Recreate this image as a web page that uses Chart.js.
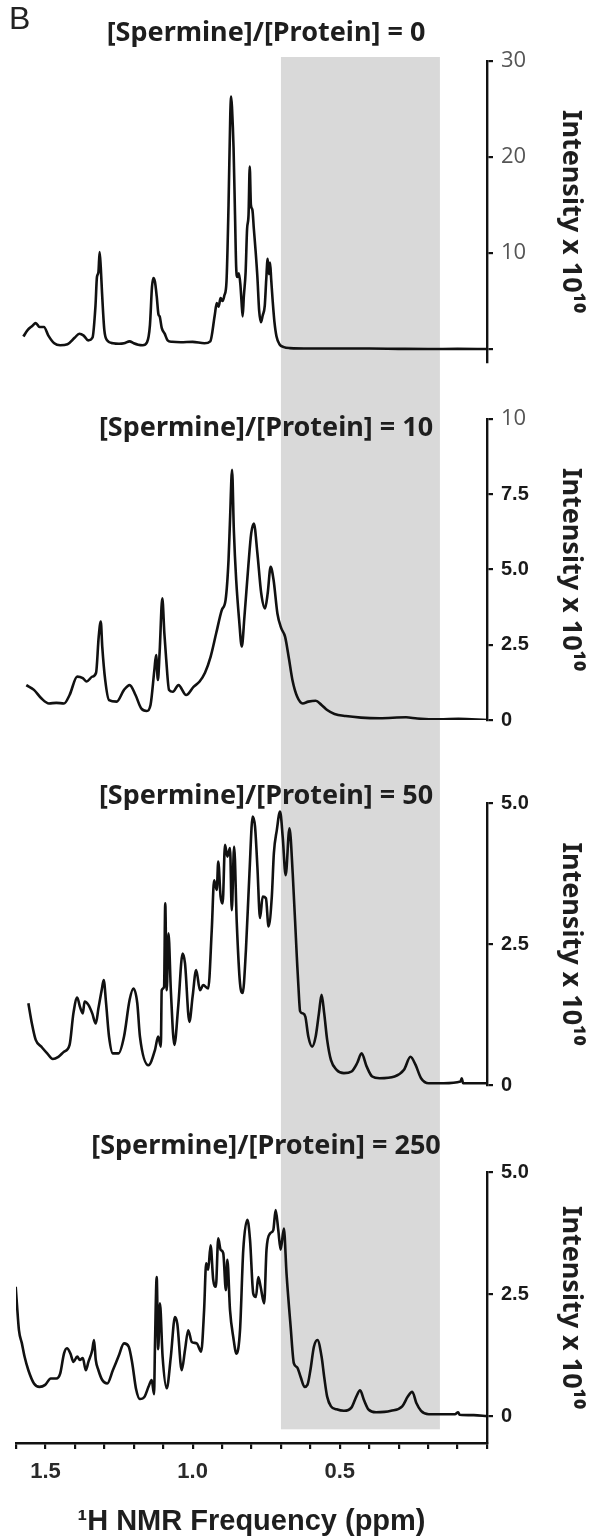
<!DOCTYPE html>
<html><head><meta charset="utf-8">
<script src="https://cdn.jsdelivr.net/npm/chart.js@4.4.1/dist/chart.umd.min.js"></script>
<style>
html,body{margin:0;padding:0;background:#fff;}
#wrap{position:relative;width:589px;height:1539px;overflow:hidden;}
canvas{position:absolute;left:0;top:0;}
.t{position:absolute;font-family:"Noto Sans","Open Sans",sans-serif;font-weight:bold;font-size:27px;color:#1e1e1e;white-space:nowrap;transform:translate(-50%,-50%);line-height:1;}
#lbl{position:absolute;left:9px;top:2px;font-family:"Liberation Sans",Arial,sans-serif;font-size:32px;color:#222;line-height:1;}
</style></head><body>
<div id="wrap"><canvas id="c" width="589" height="1539"></canvas><div id="lbl">B</div></div>
<script>
// ---- data ----
const panelLabels = ['[Spermine]/[Protein] = 0','[Spermine]/[Protein] = 10','[Spermine]/[Protein] = 50','[Spermine]/[Protein] = 250'];
const xTickLabels = ['1.5','1.0','0.5'];
const yTitle = 'Intensity x 10\u00B9\u2070';
const xTitle = '\u00B9H NMR Frequency (ppm)';

const ppm0 = [1.575,1.56,1.545,1.533,1.52,1.505,1.49,1.47,1.45,1.425,1.40,1.385,1.37,1.355,1.34,1.33,1.325,1.32,1.316,1.312,1.308,1.30,1.29,1.27,1.25,1.233,1.214,1.20,1.185,1.17,1.155,1.145,1.138,1.133,1.128,1.122,1.116,1.112,1.105,1.095,1.085,1.07,1.04,1.00,0.96,0.94,0.925,0.918,0.912,0.905,0.898,0.892,0.885,0.878,0.872,0.869,0.866,0.861,0.856,0.852,0.848,0.843,0.838,0.834,0.830,0.826,0.82,0.815,0.810,0.806,0.802,0.797,0.792,0.786,0.780,0.774,0.768,0.762,0.755,0.75,0.745,0.741,0.737,0.733,0.728,0.722,0.715,0.705,0.69,0.67,0.6,0.5,0.4,0.3,0.2,0.1,0.0];
const int0 = [1.3,2.0,2.4,2.7,2.3,2.3,1.4,0.6,0.4,0.5,1.2,1.6,1.4,0.9,1.2,4.5,7.5,8.0,10.1,8.5,6.0,2.0,0.9,0.6,0.55,0.6,0.8,0.6,0.45,0.4,0.7,2.5,6.5,7.4,7.0,5.5,3.6,3.4,2.2,1.6,0.9,0.75,0.7,0.75,0.6,0.8,3.5,4.8,4.4,5.3,5.0,5.6,7.0,15,24.5,26.3,25,21,14,8.5,7.5,7.9,6.8,5.0,3.4,5.5,8.0,12.5,14,19.0,15,14.5,12.5,10.2,7.5,4.0,2.8,3.5,4.5,7.2,9.4,7.8,9.0,7.2,5.0,2.8,1.3,0.5,0.2,0.1,0.05,0.05,0.05,0.02,0.0,0.02,0.0];

const ppm10 = [1.565,1.539,1.514,1.488,1.463,1.437,1.418,1.392,1.373,1.360,1.341,1.328,1.319,1.312,1.307,1.297,1.284,1.258,1.233,1.214,1.194,1.175,1.156,1.143,1.130,1.124,1.118,1.112,1.103,1.096,1.090,1.080,1.067,1.048,1.022,0.997,0.977,0.958,0.939,0.920,0.901,0.888,0.878,0.873,0.866,0.860,0.852,0.842,0.833,0.824,0.811,0.801,0.792,0.780,0.767,0.754,0.745,0.735,0.725,0.712,0.699,0.686,0.673,0.661,0.645,0.626,0.607,0.582,0.562,0.543,0.518,0.480,0.428,0.365,0.275,0.237,0.161,0.097,0.0];
const int10 = [1.16,1.0,0.72,0.55,0.57,0.55,0.83,1.44,1.39,1.28,1.44,1.57,2.77,3.27,2.44,1.33,0.66,0.61,1.0,1.16,0.83,0.39,0.30,0.50,1.66,2.16,1.33,2.27,4.04,2.88,2.05,1.0,0.94,1.16,0.83,1.1,1.27,1.57,2.10,2.88,3.65,3.99,5.32,6.64,8.31,6.31,4.65,3.32,2.44,3.43,5.09,6.20,6.53,5.54,4.21,3.71,4.21,5.09,4.65,3.54,3.05,2.77,2.05,1.33,0.78,0.55,0.61,0.64,0.50,0.33,0.20,0.13,0.08,0.06,0.09,0.05,0.02,0.04,0.0];

const ppm50 = [1.558,1.546,1.533,1.514,1.494,1.475,1.456,1.437,1.418,1.405,1.392,1.383,1.373,1.367,1.354,1.341,1.329,1.320,1.309,1.302,1.294,1.284,1.271,1.252,1.233,1.214,1.201,1.188,1.179,1.150,1.128,1.117,1.108,1.105,1.097,1.093,1.088,1.082,1.074,1.062,1.049,1.034,1.026,1.011,1.000,0.988,0.975,0.964,0.947,0.935,0.927,0.918,0.913,0.905,0.898,0.890,0.882,0.873,0.867,0.859,0.850,0.839,0.830,0.819,0.807,0.796,0.788,0.780,0.771,0.762,0.751,0.742,0.731,0.724,0.714,0.703,0.694,0.684,0.671,0.660,0.646,0.638,0.635,0.626,0.617,0.607,0.594,0.582,0.571,0.562,0.553,0.543,0.530,0.511,0.486,0.460,0.441,0.426,0.409,0.390,0.365,0.314,0.282,0.260,0.243,0.224,0.198,0.147,0.090,0.086,0.081,0.0];
const int50 = [1.45,1.09,0.80,0.68,0.56,0.46,0.50,0.59,0.71,1.27,1.55,1.39,1.27,1.48,1.42,1.27,1.09,1.36,1.68,1.86,1.45,0.86,0.56,0.56,0.86,1.51,1.71,1.45,0.86,0.35,0.62,0.86,0.68,1.68,1.74,3.22,1.68,2.69,1.68,0.71,1.39,2.33,2.16,1.12,1.57,2.04,1.68,1.77,1.71,2.75,3.63,3.46,3.96,3.34,3.22,4.26,4.05,4.20,3.10,4.23,2.87,1.80,1.63,2.39,3.75,4.76,4.58,3.87,2.96,3.34,3.31,2.81,3.34,4.11,4.52,4.85,4.40,3.72,4.55,3.75,2.27,1.5,1.31,1.27,1.21,0.86,0.68,0.86,1.27,1.60,1.27,0.80,0.44,0.27,0.21,0.24,0.39,0.56,0.33,0.15,0.12,0.15,0.27,0.50,0.36,0.12,0.03,0.03,0.06,0.12,0.03,0.03];

const ppm250 = [1.601,1.597,1.590,1.580,1.571,1.558,1.539,1.520,1.501,1.482,1.463,1.450,1.437,1.427,1.415,1.405,1.392,1.383,1.373,1.363,1.354,1.341,1.335,1.329,1.320,1.307,1.290,1.271,1.252,1.233,1.217,1.205,1.192,1.179,1.163,1.150,1.139,1.131,1.128,1.122,1.117,1.111,1.102,1.088,1.074,1.060,1.052,1.037,1.026,1.015,1.003,0.986,0.971,0.961,0.954,0.947,0.939,0.930,0.921,0.913,0.905,0.896,0.887,0.882,0.873,0.862,0.851,0.839,0.828,0.814,0.805,0.794,0.785,0.777,0.769,0.757,0.749,0.737,0.726,0.718,0.709,0.701,0.690,0.681,0.667,0.656,0.645,0.633,0.620,0.610,0.600,0.588,0.576,0.562,0.553,0.543,0.530,0.511,0.486,0.460,0.444,0.431,0.418,0.403,0.377,0.326,0.288,0.269,0.254,0.240,0.224,0.198,0.147,0.109,0.098,0.093,0.045,0.0];
const int250 = [2.65,2.31,1.76,1.49,1.22,0.94,0.67,0.60,0.64,0.77,0.77,0.87,1.28,1.39,1.28,1.11,1.22,1.15,1.19,0.94,1.11,1.35,1.56,1.15,0.94,0.74,0.67,0.94,1.22,1.49,1.42,1.08,0.55,0.35,0.40,0.60,0.74,0.45,1.42,2.85,1.37,2.31,1.22,0.57,1.22,2.03,1.89,0.94,1.35,1.76,1.52,1.49,1.32,2.17,3.13,3.0,3.50,2.79,2.65,3.64,3.41,3.34,2.58,3.20,2.17,1.62,1.28,1.76,3.40,4.02,3.61,2.51,2.44,2.85,2.65,2.31,3.41,3.74,3.81,4.22,3.81,3.41,3.84,2.92,1.83,1.08,1.0,0.80,0.60,0.64,0.94,1.42,1.56,1.22,0.80,0.40,0.20,0.14,0.11,0.18,0.40,0.53,0.33,0.14,0.08,0.11,0.20,0.40,0.50,0.27,0.11,0.04,0.04,0.04,0.08,0.03,0.02,0.0];

const yTickVals0 = [0,10,20,30];      const yTickText0 = ['','10','20','30'];
const yTickVals1 = [0,2.5,5,7.5,10];  const yTickText1 = ['0','2.5','5.0','7.5','10'];
const yTickVals2 = [0,2.5,5];         const yTickText2 = ['0','2.5','5.0'];
const yTickVals3 = [0,2.5,5];         const yTickText3 = ['0','2.5','5.0'];
const shadeRange = [0.70, 0.16];

// ---- build ----
const pts = (xs, ys) => xs.map((x, i) => ({x, y: ys[i]}));
const AXW = 102;
const ink = '#111111';
const titleFont = {family:'"Noto Sans","Open Sans",sans-serif', weight:'bold', size:27};
const grayTick = {family:'"Open Sans","Noto Sans",sans-serif', weight:'normal', size:22};
const boldTick = {family:'"Liberation Sans",Arial,sans-serif', weight:'bold', size:20};

function spacer(weight, h) {
  return {type:'linear', position:'right', stack:'s', stackWeight:h, weight, min:0, max:1,
    display:true, grid:{display:false}, border:{display:false}, ticks:{display:false},
    afterFit(s){ s.width = AXW; }};
}
function yAxis(weight, h, min, max, vals, texts, fontFn, colorFn) {
  return {type:'linear', position:'right', stack:'s', stackWeight:h, weight, min, max,
    afterBuildTicks(s){ s.ticks = vals.map(v => ({value:v})); },
    afterFit(s){ s.width = AXW; },
    ticks:{ padding:8, callback:(v) => { const i = vals.indexOf(v); return i < 0 ? '' : texts[i]; },
      font: (c) => fontFn(c.tick ? c.tick.value : 0), color: (c) => colorFn(c.tick ? c.tick.value : 0) },
    grid:{drawOnChartArea:false, drawTicks:true, tickLength:6, lineWidth:2.2, color:ink},
    border:{display:true, width:2.4, color:ink},
    title:{display:true, text:yTitle, font:titleFont, color:'#1e1e1e', padding:{top:2, bottom:0}}
  };
}

const shadePlugin = {
  id:'shade',
  beforeDatasetsDraw(chart){
    const {ctx, chartArea, scales} = chart;
    const a = scales.x.getPixelForValue(shadeRange[0]);
    const b = scales.x.getPixelForValue(shadeRange[1]);
    const yb = scales.y4.getPixelForValue(-0.27);
    ctx.save();
    ctx.fillStyle = '#d9d9d9';
    ctx.fillRect(Math.min(a,b), chartArea.top, Math.abs(b-a), yb - chartArea.top);
    ctx.restore();
  }
};

const ds = (data, axis) => ({data, yAxisID:axis, xAxisID:'x', borderColor:ink, borderWidth:2.6,
  pointRadius:0, fill:false, cubicInterpolationMode:'monotone', borderJoinStyle:'round'});

const chart = new Chart(document.getElementById('c'), {
  type:'line',
  data:{ datasets:[ ds(pts(ppm0,int0),'y1'), ds(pts(ppm10,int10),'y2'), ds(pts(ppm50,int50),'y3'), ds(pts(ppm250,int250),'y4') ] },
  options:{
    responsive:false, animation:false, devicePixelRatio:1,
    layout:{padding:{left:16, top:57, right:0, bottom:0}},
    plugins:{legend:{display:false}, tooltip:{enabled:false}},
    scales:{
      x:{type:'linear', position:'bottom', min:0, max:1.6, reverse:true,
        ticks:{stepSize:0.1, autoSkip:false, maxRotation:0, padding:10,
          callback:(v) => { const s = (Math.round(v*10)/10).toFixed(1); return xTickLabels.includes(s) ? s : ''; },
          font:{family:'"Liberation Sans",Arial,sans-serif', weight:'bold', size:22}, color:'#2a2a2a'},
        grid:{drawOnChartArea:false, drawTicks:true, tickLength:6, lineWidth:2.2, color:ink},
        border:{display:true, width:2.4, color:ink},
        title:{display:true, text:xTitle, font:{family:'"Liberation Sans",Arial,sans-serif', weight:'bold', size:29}, color:'#1e1e1e', padding:{top:0, bottom:0}},
        afterFit(s){ s.height = 96; }
      },
      sTop: spacer(1, 4),
      y1: yAxis(2, 301, -1.35, 30, yTickVals0, yTickText0, () => grayTick, () => '#555'),
      g1: spacer(3, 57),
      y2: yAxis(4, 301, 0, 10, yTickVals1, yTickText1, (v) => v === 10 ? grayTick : boldTick, (v) => v === 10 ? '#555' : '#1a1a1a'),
      g2: spacer(5, 83),
      y3: yAxis(6, 282, 0, 5, yTickVals2, yTickText2, () => boldTick, () => '#1a1a1a'),
      g3: spacer(7, 87),
      y4: yAxis(8, 271, -0.55, 5, yTickVals3, yTickText3, () => boldTick, () => '#1a1a1a')
    }
  },
  plugins:[shadePlugin]
});

// panel titles
const wrap = document.getElementById('wrap');
const titleY = [30, 425, 793, 1143];
panelLabels.forEach((t, i) => {
  const d = document.createElement('div');
  d.className = 't';
  d.textContent = t;
  d.style.left = '266px';
  d.style.top = titleY[i] + 'px';
  wrap.appendChild(d);
});
</script>
</body></html>
